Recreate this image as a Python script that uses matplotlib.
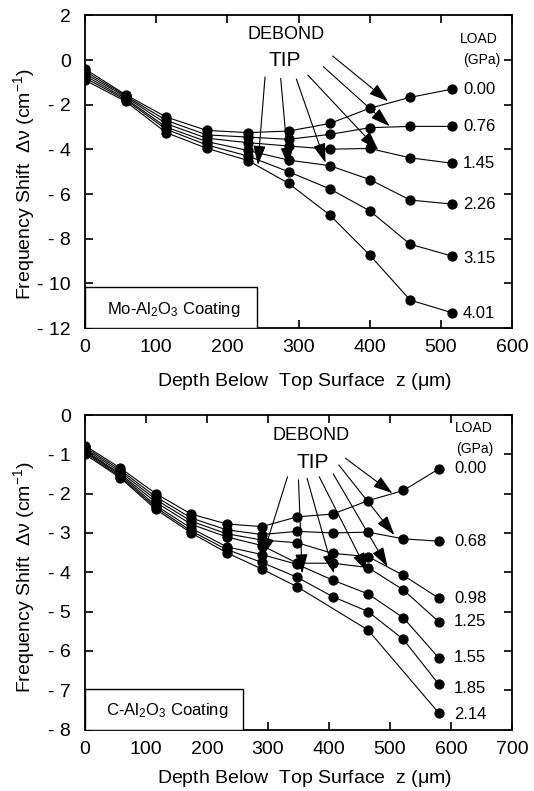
import numpy as np
import matplotlib
matplotlib.use('Agg')
import matplotlib.pyplot as plt
from matplotlib.patches import Rectangle
from matplotlib.ticker import FuncFormatter

plt.rcParams['font.family'] = ['Liberation Sans', 'DejaVu Sans']
plt.rcParams['mathtext.fontset'] = 'custom'
plt.rcParams['mathtext.rm'] = 'Liberation Sans'
plt.rcParams['mathtext.it'] = 'Liberation Sans:italic'
plt.rcParams['mathtext.bf'] = 'Liberation Sans:bold'

# ---------------- data: Mo-Al2O3 coating (top panel) ----------------
mo_depth = [0, 57, 114, 171, 229, 286, 344, 400, 457, 516]
mo_loads = ['0.00', '0.76', '1.45', '2.26', '3.15', '4.01']
mo_shift_000 = [-0.40, -1.55, -2.55, -3.15, -3.25, -3.18, -2.84, -2.16, -1.67, -1.30]
mo_shift_076 = [-0.50, -1.60, -2.70, -3.35, -3.45, -3.55, -3.33, -3.03, -2.97, -2.97]
mo_shift_145 = [-0.60, -1.65, -2.85, -3.50, -3.70, -3.85, -3.99, -3.96, -4.38, -4.62]
mo_shift_226 = [-0.70, -1.72, -3.00, -3.65, -4.05, -4.48, -4.73, -5.35, -6.27, -6.45]
mo_shift_315 = [-0.80, -1.78, -3.10, -3.80, -4.30, -5.00, -5.77, -6.75, -8.25, -8.78]
mo_shift_401 = [-0.90, -1.85, -3.25, -3.95, -4.50, -5.52, -6.94, -8.73, -10.75, -11.32]
mo_series = [mo_shift_000, mo_shift_076, mo_shift_145, mo_shift_226, mo_shift_315, mo_shift_401]

# ---------------- data: C-Al2O3 coating (bottom panel) ----------------
c_depth = [0, 58, 116, 174, 232, 290, 348, 406, 464, 522, 580]
c_loads = ['0.00', '0.68', '0.98', '1.25', '1.55', '1.85', '2.14']
c_shift_000 = [-0.78, -1.35, -2.00, -2.52, -2.77, -2.84, -2.59, -2.52, -2.18, -1.92, -1.37]
c_shift_068 = [-0.82, -1.40, -2.08, -2.62, -2.92, -3.04, -2.96, -3.00, -2.98, -3.15, -3.21]
c_shift_098 = [-0.86, -1.45, -2.15, -2.70, -3.02, -3.18, -3.25, -3.52, -3.60, -4.08, -4.66]
c_shift_125 = [-0.90, -1.50, -2.22, -2.78, -3.10, -3.32, -3.77, -3.77, -3.88, -4.45, -5.26]
c_shift_155 = [-0.93, -1.53, -2.30, -2.88, -3.35, -3.55, -3.80, -4.20, -4.55, -5.16, -6.18]
c_shift_185 = [-0.96, -1.57, -2.35, -2.95, -3.42, -3.75, -4.13, -4.62, -5.00, -5.71, -6.85]
c_shift_214 = [-1.00, -1.60, -2.40, -3.00, -3.50, -3.92, -4.37, np.nan, -5.47, np.nan, -7.58]
c_series = [c_shift_000, c_shift_068, c_shift_098, c_shift_125, c_shift_155, c_shift_185, c_shift_214]

# debond-tip arrows: (tail_x, tail_y, head_x, head_y) in data units
mo_arrows = [(253, -0.75, 243, -4.70), (275, -0.82, 286, -4.78), (297, -0.85, 338, -4.60),
             (313, -0.67, 412, -4.03), (335, -0.30, 428, -2.96), (348, 0.18, 426, -1.85)]
c_arrows = [(332, -1.57, 291, -3.60), (350, -1.65, 356, -4.03), (364, -1.61, 408, -4.03),
            (384, -1.57, 463, -3.99), (407, -1.50, 496, -3.86), (416, -1.27, 507, -3.05),
            (427, -1.10, 504, -1.99)]


def yfmt(v, pos):
    iv = int(round(v))
    if iv < 0:
        return '- %d' % abs(iv)
    return '%d' % iv


def style(ax, xlim, ylim, xticks, yticks):
    ax.set_xlim(*xlim)
    ax.set_ylim(*ylim)
    ax.set_xticks(xticks)
    ax.set_yticks(yticks)
    ax.yaxis.set_major_formatter(FuncFormatter(yfmt))
    ax.tick_params(direction='in', top=True, right=True, length=6, width=1.2,
                   labelsize=14)
    ax.tick_params(axis='x', pad=8)
    ax.tick_params(axis='y', pad=10)
    for s in ax.spines.values():
        s.set_linewidth(1.3)


def panel(ax, depth, series, loads, arrows, lbl_x, load_xy, gpa_xy, debond_xy, tip_xy,
          coating, box_w, coat_xy, ylab_y, xlab_y, lbl_off):
    for vals, load, off in zip(series, loads, lbl_off):
        x = np.array(depth, float)
        y = np.array(vals, float)
        m = ~np.isnan(y)
        ax.plot(x[m], y[m], '-', color='black', lw=0.8, marker='o', ms=6.4,
                mfc='black', mec='black', zorder=3)
        ax.text(lbl_x, y[m][-1] + off, load, fontsize=12, ha='left', va='center')
    for tx, ty, hx, hy in arrows:
        ax.annotate('', xy=(hx, hy), xytext=(tx, ty),
                    arrowprops=dict(arrowstyle='-|>,head_length=1.0,head_width=0.32',
                                    color='black', lw=0.8, shrinkA=0, shrinkB=0,
                                    mutation_scale=12), zorder=4)
    ax.text(*load_xy, 'LOAD', fontsize=10, ha='center', va='center')
    ax.text(*gpa_xy, '(GPa)', fontsize=10, ha='center', va='center')
    ax.text(*debond_xy, 'DEBOND', fontsize=13, ha='center', va='center')
    ax.text(*tip_xy, 'TIP', fontsize=15, ha='center', va='center')
    ax.add_patch(Rectangle((0, 0), box_w, 0.13, transform=ax.transAxes, fill=True,
                           facecolor='white', edgecolor='black', lw=1.0, zorder=5))
    ax.text(coat_xy[0], coat_xy[1], coating, transform=ax.transAxes, fontsize=12,
            ha='center', va='center', zorder=6)
    ax.text(0.513, xlab_y, r'Depth Below  Top Surface  z ($\mathrm{\mu}$m)', transform=ax.transAxes,
            fontsize=14, ha='center', va='center')
    ax.text(-0.143, ylab_y, 'Frequency Shift  \u0394\u03bd (cm$^{-1}$)', transform=ax.transAxes,
            fontsize=14, ha='center', va='center', rotation=90)


fig = plt.figure(figsize=(5.34, 7.91), dpi=100)
ax1 = fig.add_axes([85 / 534, 1 - 328 / 791, 427 / 534, 312.6 / 791])
ax2 = fig.add_axes([85 / 534, 1 - 729.5 / 791, 427 / 534, 314.5 / 791])

style(ax1, (0, 600), (-12, 2), range(0, 601, 100), range(-12, 3, 2))
style(ax2, (0, 700), (-8, 0), range(0, 701, 100), range(-8, 1, 1))

panel(ax1, mo_depth, mo_series, mo_loads, mo_arrows, 531, (553, 0.95), (557, 0.0),
      (282, 1.15), (281, -0.02), r'Mo-Al$_2$O$_3$ Coating', 0.403, (0.208, 0.06), 0.46, -0.17,
      [0, 0, 0, 0, -0.1, -0.05])
panel(ax2, c_depth, c_series, c_loads, c_arrows, 605, (638, -0.34), (639, -0.87),
      (370, -0.53), (373, -1.22), r'C-Al$_2$O$_3$ Coating', 0.371, (0.192, 0.062), 0.485, -0.155,
      [0, 0, 0, 0, 0, -0.1, -0.05])

fig.savefig('out.png', dpi=100)
